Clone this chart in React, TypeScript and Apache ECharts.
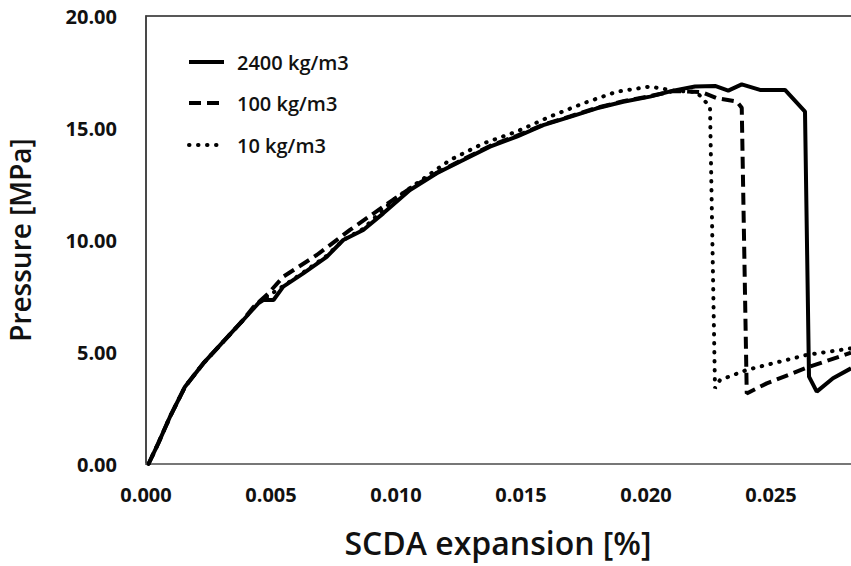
import React, { useEffect, useRef } from "react";
import * as echarts from "echarts";

// SCDA expansion [%] (x) vs pressure [MPa] (y) for three densities
const names = ["2400 kg/m3", "100 kg/m3", "10 kg/m3"];

const x2400 = [0.0001, 0.00049, 0.00096, 0.00156, 0.00229, 0.00309, 0.00389, 0.00449, 0.00469, 0.0051, 0.00549, 0.00629, 0.00723, 0.00789, 0.00869, 0.00949, 0.01056, 0.01163, 0.01269, 0.01376, 0.01483, 0.01589, 0.01696, 0.01803, 0.01909, 0.02016, 0.02109, 0.02196, 0.02276, 0.02329, 0.02383, 0.02456, 0.02556, 0.02636, 0.02652, 0.02683, 0.02748, 0.0282];
const y2400 = [0, 0.92, 2.11, 3.45, 4.49, 5.46, 6.43, 7.17, 7.32, 7.32, 7.92, 8.51, 9.25, 10.0, 10.45, 11.19, 12.23, 12.98, 13.57, 14.17, 14.61, 15.13, 15.5, 15.88, 16.17, 16.4, 16.67, 16.85, 16.88, 16.67, 16.95, 16.7, 16.7, 15.73, 3.9, 3.23, 3.83, 4.27];

const x100 = [0.0001, 0.00049, 0.00096, 0.00156, 0.00229, 0.00309, 0.00389, 0.00429, 0.00488, 0.00549, 0.00683, 0.00816, 0.00949, 0.01056, 0.01163, 0.01269, 0.01376, 0.01483, 0.01589, 0.01696, 0.01803, 0.01909, 0.02016, 0.02109, 0.02223, 0.02283, 0.02363, 0.02383, 0.02403, 0.02483, 0.02643, 0.0282];
const y100 = [0, 0.92, 2.11, 3.45, 4.49, 5.46, 6.43, 7.0, 7.6, 8.36, 9.33, 10.45, 11.49, 12.3, 13.0, 13.6, 14.2, 14.65, 15.15, 15.52, 15.9, 16.2, 16.42, 16.65, 16.6, 16.33, 16.18, 15.9, 3.15, 3.6, 4.3, 4.97];

const x10 = [0.0001, 0.00049, 0.00096, 0.00156, 0.00229, 0.00309, 0.00389, 0.00449, 0.00549, 0.00629, 0.00723, 0.00789, 0.00869, 0.0099, 0.01083, 0.01216, 0.01349, 0.01483, 0.01616, 0.01749, 0.01883, 0.02016, 0.02109, 0.02203, 0.02256, 0.02276, 0.02296, 0.02403, 0.02643, 0.0282];
const y10 = [0, 0.92, 2.11, 3.45, 4.49, 5.46, 6.43, 7.2, 7.95, 8.55, 9.3, 10.0, 10.5, 11.8, 12.53, 13.57, 14.31, 14.84, 15.51, 16.1, 16.62, 16.85, 16.67, 16.6, 15.95, 3.38, 3.75, 4.2, 4.87, 5.16];

const FONT = "'Open Sans', 'Noto Sans CJK KR', sans-serif";

const DOT: number[] = [0.5, 8.5];
const DASH: number[] = [12, 6];

const pairs = (xs: number[], ys: number[]) => xs.map((x, i) => [x, ys[i]]);

// Legend drawn as line samples + labels in the upper-left of the plot
function legendGraphics() {
  const styles: { dash: number[] | null; cap: string }[] = [
    { dash: null, cap: "butt" },
    { dash: DASH, cap: "butt" },
    { dash: DOT, cap: "round" },
  ];
  const rows = [62, 103, 145];
  const out: any[] = [];
  names.forEach((n, i) => {
    out.push({
      type: "line",
      shape: { x1: 189, y1: rows[i], x2: 224, y2: rows[i] },
      style: {
        stroke: "#000",
        lineWidth: 4,
        lineDash: styles[i].dash || undefined,
        lineCap: styles[i].cap,
      },
      z: 10,
    });
    out.push({
      type: "text",
      x: 237,
      y: rows[i],
      style: {
        text: n,
        fontFamily: FONT,
        fontSize: 20,
        fontWeight: 600,
        fill: "#111",
        verticalAlign: "middle",
        align: "left",
      },
      z: 10,
    });
  });
  return out;
}

export default function App() {
  const ref = useRef<HTMLDivElement>(null);

  useEffect(() => {
    if (!ref.current) return;
    const chart = echarts.init(ref.current, undefined, { renderer: "svg" });
    const base = {
      type: "line" as const,
      symbol: "none",
      smooth: false,
      clip: true,
    };
    chart.setOption({
      animation: false,
      backgroundColor: "#ffffff",
      grid: {
        left: 146,
        top: 16,
        bottom: 102,
        right: -45,
        show: true,
        borderColor: "#222",
        borderWidth: 1.5,
        containLabel: false,
        outerBoundsMode: "none",
      },
      graphic: legendGraphics(),
      xAxis: {
        type: "value",
        min: 0,
        max: 0.03,
        interval: 0.005,
        name: "SCDA expansion [%]",
        nameLocation: "middle",
        nameGap: 62,
        nameTextStyle: {
          fontFamily: FONT,
          fontSize: 32,
          fontWeight: 600,
          color: "#111",
          padding: [0, 46, 0, 0],
        },
        axisLine: { show: true, lineStyle: { color: "#777", width: 2 } },
        axisTick: { show: false },
        splitLine: { show: false },
        axisLabel: {
          margin: 20,
          showMaxLabel: false,
          fontFamily: FONT,
          fontSize: 20,
          fontWeight: 700,
          color: "#111",
          formatter: (v: number) => (v >= 0.0299 ? "" : v.toFixed(3)),
        },
      },
      yAxis: {
        type: "value",
        min: 0,
        max: 20,
        interval: 5,
        name: "Pressure [MPa]",
        nameLocation: "middle",
        nameGap: 112,
        nameRotate: 90,
        nameTextStyle: { fontFamily: FONT, fontSize: 28, fontWeight: 600, color: "#111" },
        axisLine: { show: true, lineStyle: { color: "#444", width: 1.5 } },
        axisTick: { show: false },
        splitLine: { show: false },
        axisLabel: {
          margin: 29,
          fontFamily: FONT,
          fontSize: 20,
          fontWeight: 700,
          color: "#111",
          formatter: (v: number) => v.toFixed(2),
        },
      },
      series: [
        {
          ...base,
          name: names[2],
          data: pairs(x10, y10),
          lineStyle: { color: "#000", width: 4, type: DOT, cap: "round" },
          z: 2,
        },
        {
          ...base,
          name: names[1],
          data: pairs(x100, y100),
          lineStyle: { color: "#000", width: 4, type: DASH, cap: "butt" },
          z: 3,
        },
        {
          ...base,
          name: names[0],
          data: pairs(x2400, y2400),
          lineStyle: { color: "#000", width: 4, type: "solid" },
          z: 4,
        },
      ],
    });
    return () => chart.dispose();
  }, []);

  return (
    <div
      ref={ref}
      style={{ position: "absolute", left: 0, top: 0, width: 851, height: 566 }}
    />
  );
}
